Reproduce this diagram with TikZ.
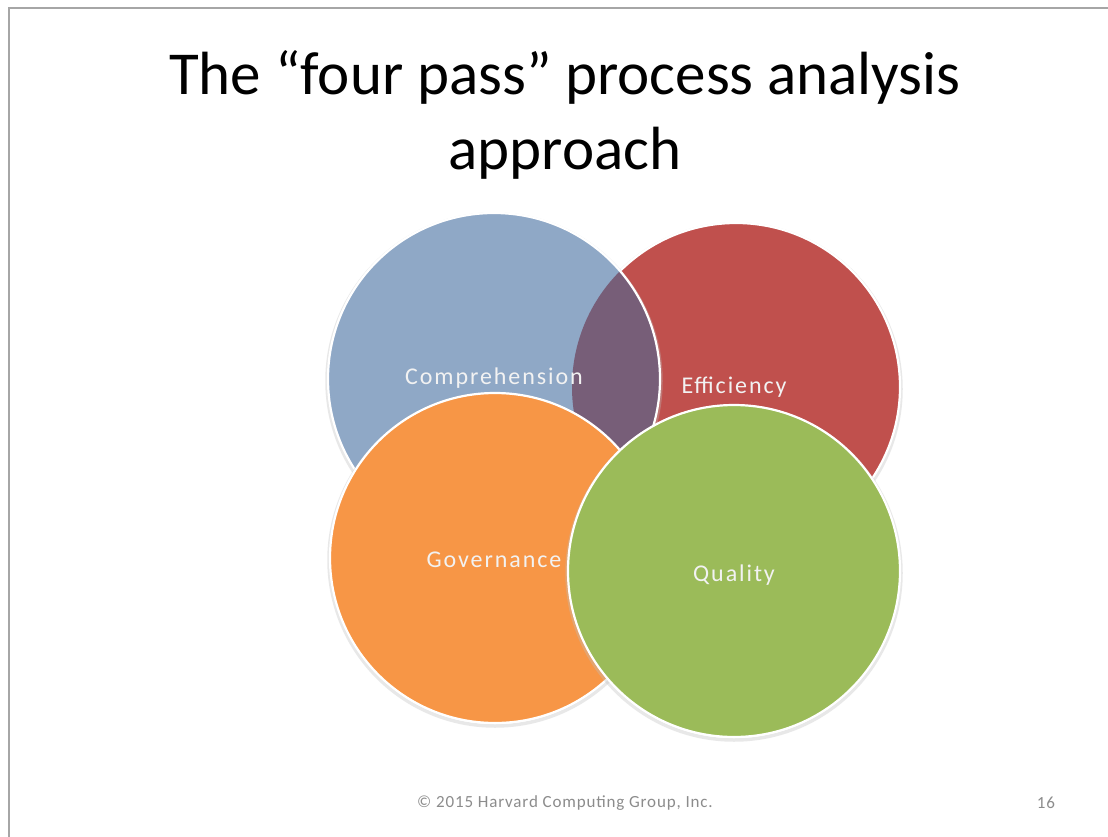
\documentclass[tikz,border=0pt]{standalone}
\usepackage{fontspec}
\setmainfont{Carlito}
\newfontfamily\spaced[LetterSpace=8]{Carlito}
\newfontfamily\footspaced[LetterSpace=5]{Carlito}
\definecolor{cblue}{HTML}{8FA8C6}
\definecolor{cred}{HTML}{C0504D}
\definecolor{cpurple}{HTML}{775E78}
\definecolor{corange}{HTML}{F79646}
\definecolor{cgreen}{HTML}{9BBB59}
\definecolor{frame}{HTML}{A6A6A6}
\definecolor{foot}{HTML}{8C8C8C}
\begin{document}
\begin{tikzpicture}[x=1pt,y=-1pt,
  halo/.style={draw=black!25, line width=3.5pt, opacity=0.35},
  rim/.style={draw=white, line width=2.2pt},
  lbl/.style={text=white!95!black, font=\spaced\fontsize{24}{28}\selectfont, inner sep=0pt},
  title/.style={font=\fontsize{61}{75}\selectfont, align=center, inner sep=0pt},
  footer/.style={text=foot, font=\footspaced\fontsize{17}{19}\selectfont, inner sep=0pt}]
\useasboundingbox (0,0) rectangle (1108,837);
\fill[white] (0,0) rectangle (1108,837);
\draw[frame, line width=1.5pt] (9,837) -- (9,8) -- (1108,8);
% title
\node[title, anchor=base] (t1) at (565,95) {The “four pass” process analysis};
\node[title, anchor=base] (t2) at (565,170) {approach};
% red circle (Efficiency)
\draw[halo] (736,389) circle (165);
\fill[cred] (736,387) circle (164);
\draw[rim] (736,387) circle (164);
% blue circle (Comprehension)
\draw[halo] (494,381) circle (167);
\fill[cblue] (494,379) circle (166);
\begin{scope}
  \clip (494,379) circle (166);
  \fill[cpurple] (736,387) circle (164);
\end{scope}
\draw[rim] (494,379) circle (166);
% orange circle (Governance)
\draw[halo] (495,560) circle (166);
\fill[corange] (495,558) circle (165);
\draw[rim] (495,558) circle (165);
% green circle (Quality)
\draw[halo] (734,573) circle (167);
\fill[cgreen] (734,571) circle (166);
\draw[rim] (734,571) circle (166);
% labels
\node[lbl] (comp) at (494,378) {Comprehension};
\node[lbl] (eff) at (734,387) {Efficiency};
\node[lbl] (gov) at (494,560) {Governance};
\node[lbl] (qual) at (734,575) {Quality};
% footer
\node[footer] (copy) at (565,803) {© 2015 Harvard Computing Group, Inc.};
\node[footer] (page) at (1046,803) {16};
\end{tikzpicture}
\end{document}
